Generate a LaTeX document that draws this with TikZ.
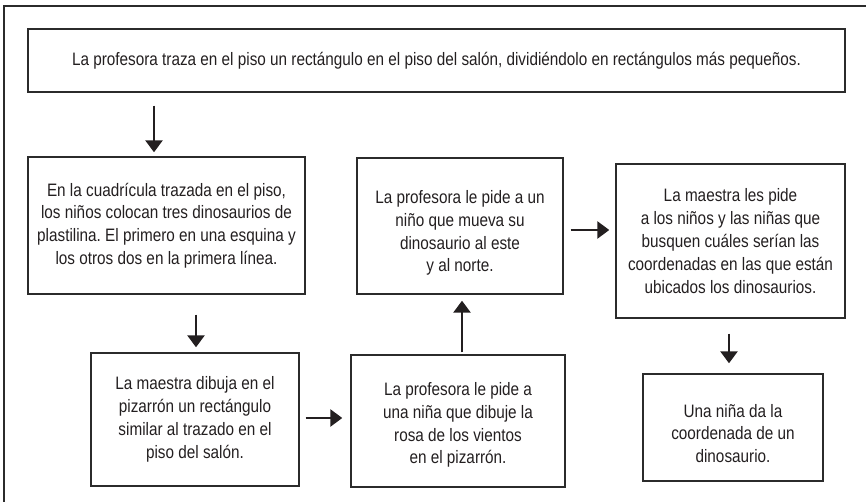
\documentclass[tikz,border=0pt]{standalone}
\usepackage{fontspec}
\setmainfont[FakeStretch=0.85]{Liberation Sans}
\usetikzlibrary{arrows.meta,calc}
\definecolor{ink}{HTML}{231F20}
\definecolor{edge}{HTML}{2B2B2B}
\frenchspacing
\newcommand{\dropby}[1]{\rule{0pt}{#1}}
\begin{document}
\begin{tikzpicture}[x=1pt,y=-1pt,
  box/.style={draw=edge,line width=1.4pt,rectangle,align=center,inner sep=0pt,
    text=ink,font=\fontsize{18}{22.8}\selectfont},
  arr/.style={draw=ink,line width=2.6pt,-{Triangle[width=17pt,length=12pt]}},
  frame/.style={draw=edge,line width=1.1pt}]
\useasboundingbox (0,0) rectangle (866,502);
\draw[frame] (4,520) -- (4,6) -- (880,6);
\node[box,minimum width=817pt,minimum height=63pt] (top) at (436.5,60.5)
  {La profesora traza en el piso un rectángulo en el piso del salón, dividiéndolo en rectángulos más pequeños.};
\node[box,minimum width=277pt,minimum height=137pt] (A) at (166.5,225.5)
  {En la cuadrícula trazada en el piso,\\los niños colocan tres dinosaurios de\\plastilina. El primero en una esquina y\\los otros dos en la primera línea.};
\node[box,minimum width=206pt,minimum height=136pt] (M) at (460,226)
  {\dropby{27pt}La profesora le pide a un\\niño que mueva su\\dinosaurio al este\\y al norte.};
\node[box,minimum width=229pt,minimum height=154pt] (R) at (730.5,241)
  {La maestra les pide\\a los niños y las niñas que\\busquen cuáles serían las\\coordenadas en las que están\\ubicados los dinosaurios.};
\node[box,minimum width=208pt,minimum height=133pt] (B) at (195,419.5)
  {La maestra dibuja en el\\pizarrón un rectángulo\\similar al trazado en el\\piso del salón.};
\node[box,minimum width=214pt,minimum height=132pt] (C) at (458,421)
  {\dropby{21pt}La profesora le pide a\\una niña que dibuje la\\rosa de los vientos\\en el pizarrón.};
\node[box,minimum width=180pt,minimum height=107pt] (D) at (733,427.5)
  {\dropby{25pt}Una niña da la\\coordenada de un\\dinosaurio.};
% connectors
\draw[arr,shorten <=13pt,shorten >=4pt] ([xshift=-12.5pt]A.north |- top.south) -- ([xshift=-12.5pt]A.north);
\draw[arr,shorten <=20pt,shorten >=5pt] ([xshift=29.5pt]A.south) -- ([xshift=29.5pt]A.south |- B.north);
\draw[arr,shorten <=6pt,shorten >=8pt] (B.east |- 0,418) -- (C.west |- 0,418);
\draw[arr,shorten <=2pt,shorten >=6pt] ([xshift=4pt]C.north) -- ([xshift=4pt]C.north |- M.south);
\draw[arr,shorten <=7pt,shorten >=6pt] (M.east |- 0,230) -- (R.west |- 0,230);
\draw[arr,shorten <=15pt,shorten >=10pt] ([xshift=-1.5pt]R.south) -- ([xshift=-1.5pt]R.south |- D.north);
\end{tikzpicture}
\end{document}
